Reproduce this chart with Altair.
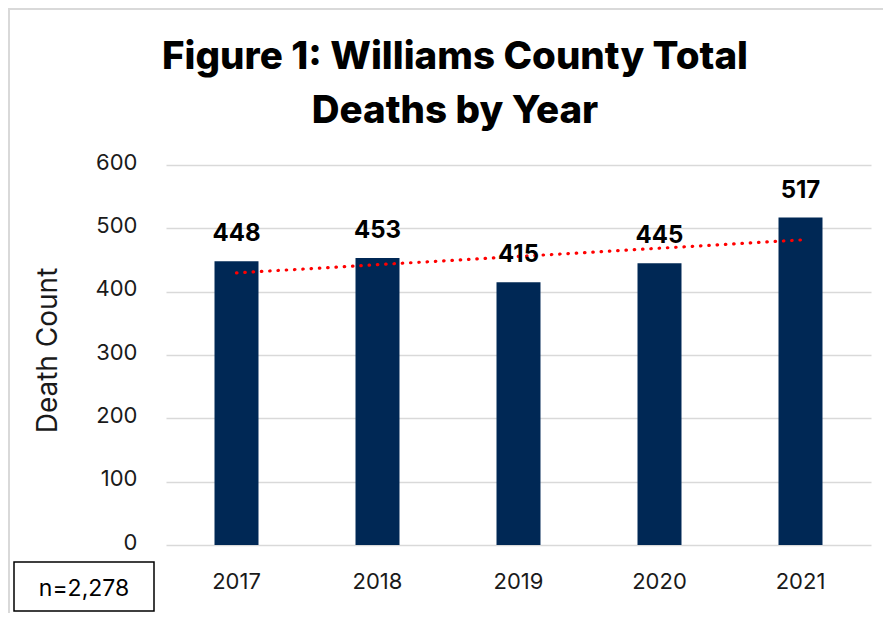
import altair as alt
import pandas as pd

years = [2017, 2018, 2019, 2020, 2021]
deaths = [448, 453, 415, 445, 517]
title_lines = ["Figure 1: Williams County Total", "Deaths by Year"]
n_label = "n=2,278"
y_title = "Death Count"

NAVY = "#002855"
GRID = "#d9d9d9"
FONT = "Inter"

df = pd.DataFrame({"year": years, "deaths": deaths})
one = pd.DataFrame({"k": [0]})

base = alt.Chart(df)

xenc = alt.X(
    "year:O",
    scale=alt.Scale(paddingInner=0.688, paddingOuter=0.344),
    axis=alt.Axis(
        title=None, labelAngle=0, labelFontSize=22, labelFont=FONT,
        labelColor="#1a1a1a", labelPadding=26, ticks=False, tickSize=0,
        domain=False, grid=False,
    ),
)
yenc = alt.Y(
    "deaths:Q",
    scale=alt.Scale(domain=[0, 600]),
    axis=alt.Axis(
        values=[0, 100, 200, 300, 400, 500, 600],
        title=y_title, titleFont=FONT, titleFontSize=28, titleFontWeight="normal",
        titleColor="#1a1a1a", titleX=-118, titleY=185, titleAngle=-90,
        titleAlign="center", titleBaseline="middle",
        labelFontSize=22, labelFont=FONT, labelColor="#1a1a1a",
        labelPadding=29, labelBaseline="middle", labelOffset=-3,
        ticks=False, tickSize=0, domain=False,
        grid=True, gridColor=GRID, gridWidth=1.5,
    ),
)

bars = base.mark_bar(color=NAVY).encode(x=xenc, y=yenc)

labels = base.mark_text(
    font=FONT, fontSize=24, fontWeight="bold", color="#000000",
    baseline="alphabetic", dy=-20,
).encode(x="year:O", y="deaths:Q", text="deaths:Q")

trend = base.transform_regression("year", "deaths", method="linear").mark_line(
    color="#ff0000", strokeWidth=3.2, strokeDash=[0.5, 7.8], strokeCap="round",
).encode(x="year:O", y="deaths:Q")

title1 = alt.Chart(one).mark_text(
    text=title_lines[0], font=FONT, fontSize=38.5, fontWeight=800,
    color="#000000", align="center", baseline="alphabetic",
).encode(x=alt.value(289), y=alt.value(-96))
title2 = alt.Chart(one).mark_text(
    text=title_lines[1], font=FONT, fontSize=38.5, fontWeight=800,
    color="#000000", align="center", baseline="alphabetic",
).encode(x=alt.value(289), y=alt.value(-42))

border_left = alt.Chart(one).mark_rule(color=GRID, strokeWidth=2).encode(
    x=alt.value(-157), y=alt.value(-157), y2=alt.value(448)
)
border_top = alt.Chart(one).mark_rule(color=GRID, strokeWidth=2).encode(
    x=alt.value(-158), x2=alt.value(717), y=alt.value(-156)
)

nbox = alt.Chart(one).mark_rect(
    fill="white", stroke="#000000", strokeWidth=1.5
).encode(x=alt.value(-152), x2=alt.value(-12), y=alt.value(397), y2=alt.value(446))
ntext = alt.Chart(one).mark_text(
    text=n_label, font=FONT, fontSize=23, color="#000000",
    align="center", baseline="middle",
).encode(x=alt.value(-82), y=alt.value(424))

chart = alt.layer(
    border_left, border_top, bars, trend, labels, title1, title2, nbox, ntext
).properties(
    width=705, height=380,
    background="white",
    autosize=alt.AutoSizeParams(type="none"),
    padding={"left": 158, "top": 157, "right": 12, "bottom": 68},
).configure_view(strokeWidth=0, stroke=None)

chart.save("out.html", embed_options={"renderer": "svg", "actions": False})
